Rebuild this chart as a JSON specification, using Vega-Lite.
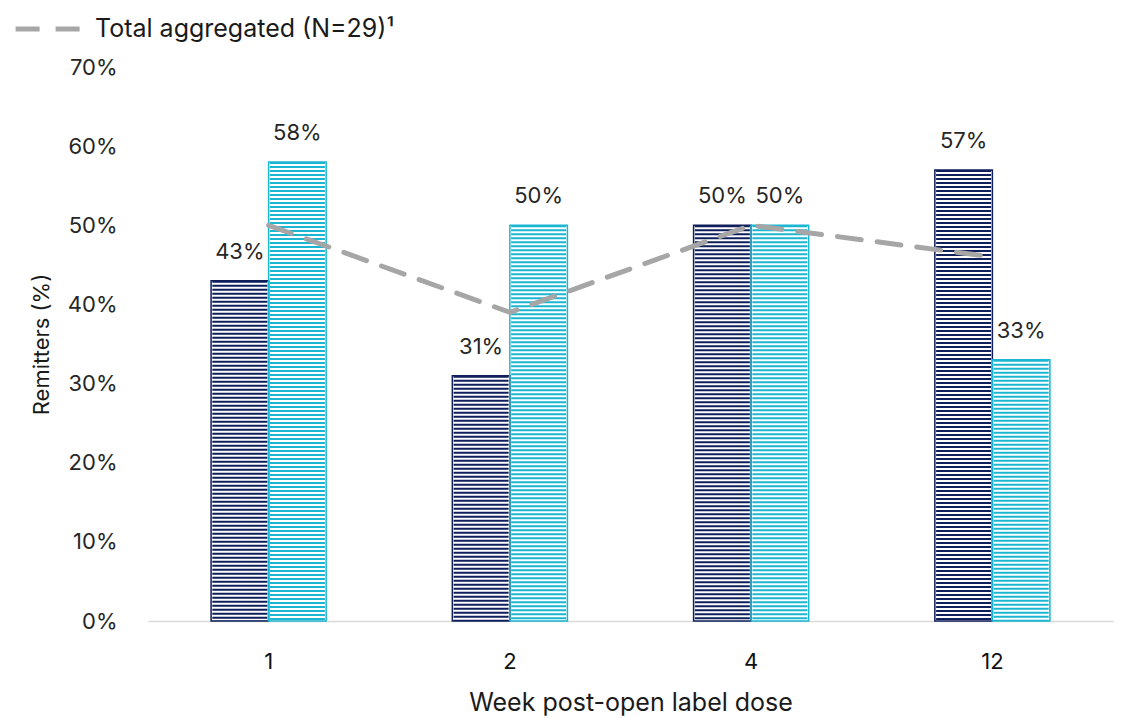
{
  "$schema": "https://vega.github.io/schema/vega-lite/v6.json",
  "width": 965,
  "height": 554,
  "autosize": {"type": "none"},
  "padding": {"left": 148, "top": 67, "right": 11, "bottom": 97},
  "background": "white",
  "config": {
    "font": "Inter",
    "view": {"stroke": null},
    "axis": {"labelColor": "#262626", "titleColor": "#1a1a1a", "titleFontWeight": "normal"}
  },
  "datasets": {
    "remitters": [
      {"week": "1", "group": "Group A", "pct": 0.43},
      {"week": "1", "group": "Group B", "pct": 0.58},
      {"week": "2", "group": "Group A", "pct": 0.31},
      {"week": "2", "group": "Group B", "pct": 0.50},
      {"week": "4", "group": "Group A", "pct": 0.50},
      {"week": "4", "group": "Group B", "pct": 0.50},
      {"week": "12", "group": "Group A", "pct": 0.57},
      {"week": "12", "group": "Group B", "pct": 0.33}
    ],
    "total": [
      {"week": "1", "series": "Total aggregated (N=29)¹", "pct": 0.50},
      {"week": "2", "series": "Total aggregated (N=29)¹", "pct": 0.39},
      {"week": "4", "series": "Total aggregated (N=29)¹", "pct": 0.50},
      {"week": "12", "series": "Total aggregated (N=29)¹", "pct": 0.46}
    ]
  },
  "encoding": {
    "x": {
      "field": "week",
      "type": "ordinal",
      "sort": ["1", "2", "4", "12"],
      "scale": {"paddingInner": 0.523, "paddingOuter": 0.2615},
      "axis": {
        "title": "Week post-open label dose",
        "titleFontSize": 25,
        "titleY": 81,
        "titleBaseline": "middle",
        "labelAngle": 0,
        "labelFontSize": 22,
        "labelPadding": 30,
        "labelColor": "#111111",
        "ticks": false,
        "domainColor": "#d9d9d9",
        "domainWidth": 1.5,
        "grid": false
      }
    }
  },
  "layer": [
    {
      "data": {"name": "remitters"},
      "mark": {"type": "rule", "strokeDash": [2, 2], "strokeWidth": 55},
      "encoding": {
        "xOffset": {"field": "group", "type": "nominal", "scale": {"paddingInner": 0, "paddingOuter": 0}},
        "y": {
          "field": "pct",
          "type": "quantitative",
          "scale": {"domain": [0, 0.7]},
          "axis": {
            "title": "Remitters (%)",
            "titleFontSize": 22,
            "titleX": -107,
            "titleY": 277,
            "titleBaseline": "middle",
            "titleAlign": "center",
            "values": [0, 0.1, 0.2, 0.3, 0.4, 0.5, 0.6, 0.7],
            "format": ".0%",
            "labelFontSize": 22,
            "labelPadding": 31,
            "ticks": false,
            "domain": false,
            "grid": false
          }
        },
        "y2": {"datum": 0},
        "color": {
          "field": "group",
          "type": "nominal",
          "scale": {"domain": ["Group A", "Group B"], "range": ["#0e1f5b", "#1bb6d1"]},
          "legend": null
        }
      }
    },
    {
      "data": {"name": "remitters"},
      "mark": {"type": "bar", "filled": false, "strokeWidth": 1.5},
      "encoding": {
        "xOffset": {"field": "group", "type": "nominal"},
        "y": {"field": "pct", "type": "quantitative"},
        "color": {"field": "group", "type": "nominal", "legend": null}
      }
    },
    {
      "data": {"name": "remitters"},
      "mark": {"type": "text", "fontSize": 22, "dy": -22, "baseline": "alphabetic", "color": "#262626"},
      "encoding": {
        "xOffset": {"field": "group", "type": "nominal"},
        "y": {"field": "pct", "type": "quantitative"},
        "text": {"field": "pct", "type": "quantitative", "format": ".0%"}
      }
    },
    {
      "data": {"name": "total"},
      "mark": {"type": "line", "strokeWidth": 5, "strokeCap": "round"},
      "encoding": {
        "y": {"field": "pct", "type": "quantitative"},
        "stroke": {
          "field": "series",
          "type": "nominal",
          "scale": {"range": ["#a6a6a6"]},
          "legend": {
            "orient": "none",
            "legendX": -135,
            "legendY": -73,
            "title": null,
            "symbolType": "stroke",
            "symbolSize": 4200,
            "symbolStrokeWidth": 5,
            "labelFontSize": 25,
            "labelColor": "#1a1a1a",
            "labelOffset": 12,
            "labelLimit": 500
          }
        },
        "strokeDash": {
          "field": "series",
          "type": "nominal",
          "scale": {"range": [[24, 16]]}
        }
      }
    }
  ]
}
